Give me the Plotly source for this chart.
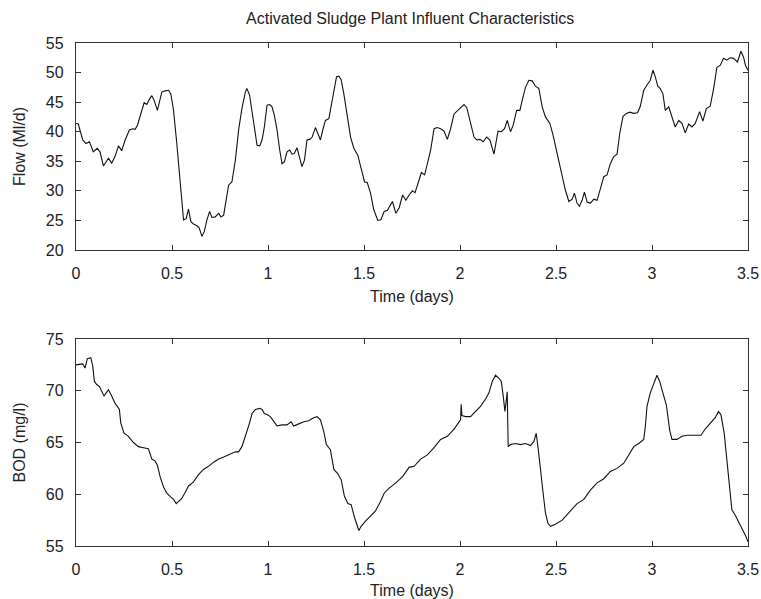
import plotly.graph_objects as go

# Flow (Ml/d) vs time (days)
flow_t = [0, 0.012, 0.035, 0.052, 0.07, 0.09, 0.11, 0.125, 0.143, 0.169, 0.186, 0.203, 0.221, 0.238, 0.256,
          0.278, 0.296, 0.308, 0.32, 0.334, 0.355, 0.369, 0.379, 0.395, 0.407, 0.424, 0.438, 0.447, 0.464,
          0.482, 0.494, 0.508, 0.525, 0.543, 0.56, 0.574, 0.586, 0.598, 0.612, 0.63, 0.642, 0.656, 0.668,
          0.682, 0.696, 0.708, 0.725, 0.743, 0.755, 0.769, 0.783, 0.795, 0.812, 0.83, 0.847, 0.864, 0.882,
          0.89, 0.904, 0.917, 0.929, 0.943, 0.957, 0.969, 0.981, 0.995, 1.009, 1.021, 1.033, 1.047, 1.061,
          1.073, 1.085, 1.099, 1.113, 1.125, 1.137, 1.151, 1.163, 1.177, 1.19, 1.203, 1.217, 1.23, 1.247,
          1.259, 1.273, 1.287, 1.299, 1.317, 1.329, 1.343, 1.357, 1.369, 1.381, 1.395, 1.412, 1.43, 1.447,
          1.468, 1.485, 1.503, 1.517, 1.534, 1.551, 1.572, 1.588, 1.605, 1.622, 1.648, 1.666, 1.683, 1.701,
          1.718, 1.735, 1.752, 1.766, 1.782, 1.799, 1.816, 1.83, 1.847, 1.865, 1.882, 1.899, 1.917, 1.934,
          1.951, 1.969, 1.99, 2.003, 2.021, 2.035, 2.052, 2.073, 2.087, 2.104, 2.121, 2.139, 2.156, 2.177,
          2.198, 2.215, 2.232, 2.246, 2.263, 2.277, 2.295, 2.312, 2.324, 2.341, 2.359, 2.376, 2.393, 2.411,
          2.428, 2.445, 2.468, 2.485, 2.506, 2.532, 2.549, 2.567, 2.584, 2.596, 2.61, 2.622, 2.636, 2.648,
          2.662, 2.679, 2.697, 2.714, 2.731, 2.749, 2.766, 2.783, 2.801, 2.818, 2.832, 2.849, 2.867, 2.884,
          2.905, 2.925, 2.939, 2.957, 2.974, 2.991, 3.005, 3.017, 3.03, 3.043, 3.057, 3.069, 3.087, 3.104,
          3.121, 3.139, 3.156, 3.173, 3.191, 3.208, 3.225, 3.248, 3.265, 3.283, 3.303, 3.321, 3.338, 3.355,
          3.373, 3.39, 3.407, 3.425, 3.445, 3.463, 3.477, 3.487, 3.5]
flow_v = [41.4, 41.3, 38.6, 38.0, 38.3, 36.6, 37.2, 36.6, 34.2, 35.5, 34.7, 35.8, 37.6, 36.8, 38.6,
          40.3, 40.5, 40.4, 41.1, 42.8, 44.9, 44.6, 45.3, 46.1, 45.3, 43.6, 45.3, 46.7, 46.9,
          47.0, 46.4, 43.6, 38.0, 31.8, 25.1, 25.3, 26.9, 24.8, 24.4, 24.1, 23.7, 22.3, 23.1,
          25.1, 26.5, 25.5, 25.6, 26.2, 25.6, 25.9, 28.7, 31.0, 31.5, 35.2, 40.3, 43.9, 46.7,
          47.3, 46.2, 43.6, 40.5, 37.7, 37.6, 38.6, 40.8, 44.5, 44.6, 44.2, 42.8, 40.3, 36.9,
          34.6, 34.9, 36.6, 36.9, 36.2, 36.3, 37.3, 35.8, 34.1, 35.2, 38.6, 38.7, 39.1, 40.7,
          39.7, 38.6, 40.5, 41.9, 42.2, 44.2, 47.0, 49.3, 49.4, 48.8, 46.4, 43.1, 39.1, 37.2,
          36.0, 33.8, 31.5, 31.4, 29.6, 26.8, 25.0, 25.1, 26.5, 26.7, 28.2, 26.2, 27.1, 29.3,
          28.4, 29.3, 30.0, 29.7, 31.5, 33.1, 32.7, 34.6, 36.9, 40.5, 40.7, 40.5, 40.1, 38.7,
          40.5, 43.0, 43.7, 44.1, 44.6, 44.1, 41.9, 39.1, 38.6, 38.7, 38.3, 39.1, 38.6, 36.2,
          40.1, 40.0, 40.5, 41.9, 40.0, 41.1, 43.6, 43.6, 45.3, 47.5, 48.7, 48.6, 47.7, 47.3,
          44.2, 42.5, 41.4, 39.4, 36.3, 32.4, 30.1, 28.2, 28.6, 29.6, 27.9, 27.4, 28.4, 29.8,
          28.1, 27.9, 28.6, 28.4, 30.4, 32.4, 32.7, 34.6, 35.8, 36.2, 39.7, 42.6, 43.1, 43.3,
          43.1, 43.2, 44.3, 47.0, 47.9, 48.7, 50.4, 49.3, 47.7, 47.3, 46.4, 43.6, 44.2, 42.5,
          40.8, 41.9, 41.4, 39.8, 41.3, 40.8, 41.4, 43.4, 41.8, 43.9, 44.3, 47.3, 50.9, 51.2,
          52.4, 52.1, 52.5, 52.4, 51.8, 53.6, 52.6, 51.2, 50.4]

# BOD (mg/l) vs time (days)
bod_t = [0, 0.021, 0.035, 0.047, 0.059, 0.077, 0.087, 0.096, 0.108, 0.122, 0.134, 0.146, 0.157, 0.169,
         0.186, 0.203, 0.226, 0.233, 0.25, 0.273, 0.299, 0.325, 0.351, 0.377, 0.395, 0.412, 0.424, 0.438,
         0.456, 0.473, 0.49, 0.508, 0.522, 0.534, 0.551, 0.569, 0.586, 0.612, 0.638, 0.664, 0.69, 0.717,
         0.743, 0.769, 0.803, 0.83, 0.847, 0.864, 0.882, 0.894, 0.904, 0.917, 0.934, 0.957, 0.969, 0.981,
         0.995, 1.012, 1.03, 1.047, 1.073, 1.099, 1.12, 1.134, 1.16, 1.186, 1.212, 1.238, 1.256, 1.273,
         1.29, 1.304, 1.325, 1.343, 1.363, 1.381, 1.398, 1.416, 1.433, 1.45, 1.473, 1.485, 1.508, 1.534,
         1.56, 1.586, 1.605, 1.631, 1.666, 1.701, 1.735, 1.761, 1.795, 1.83, 1.865, 1.899, 1.934, 1.969,
         1.995, 2.003, 2.006, 2.01, 2.029, 2.055, 2.081, 2.107, 2.133, 2.151, 2.168, 2.185, 2.203, 2.215,
         2.225, 2.234, 2.241, 2.246, 2.251, 2.263, 2.289, 2.315, 2.341, 2.367, 2.385, 2.397, 2.406, 2.419,
         2.433, 2.445, 2.458, 2.471, 2.497, 2.532, 2.567, 2.61, 2.645, 2.679, 2.714, 2.749, 2.783, 2.818,
         2.853, 2.879, 2.905, 2.931, 2.957, 2.965, 2.974, 2.991, 3.009, 3.026, 3.04, 3.057, 3.075, 3.092,
         3.104, 3.13, 3.156, 3.182, 3.208, 3.234, 3.255, 3.277, 3.303, 3.329, 3.346, 3.359, 3.376, 3.39,
         3.404, 3.416, 3.433, 3.45, 3.473, 3.49, 3.5]
bod_v = [72.5, 72.6, 72.6, 72.2, 73.1, 73.2, 72.4, 70.9, 70.6, 70.4, 69.9, 69.5, 69.8, 70.1,
         69.5, 68.8, 68.2, 66.9, 65.9, 65.6, 65.0, 64.6, 64.5, 64.4, 63.4, 63.2, 62.8, 61.7,
         60.7, 60.1, 59.8, 59.5, 59.1, 59.3, 59.6, 60.2, 60.8, 61.2, 61.9, 62.4, 62.7, 63.1,
         63.4, 63.6, 63.9, 64.1, 64.1, 64.6, 65.6, 66.2, 66.9, 67.8, 68.2, 68.3, 68.2, 67.8,
         67.7, 67.5, 67.0, 66.6, 66.7, 66.7, 67.0, 66.6, 66.8, 67.0, 67.1, 67.4, 67.5, 67.2,
         66.1, 64.8, 64.3, 62.4, 62.0, 61.4, 59.8, 59.1, 59.0, 57.8, 56.5, 56.9, 57.4, 57.9,
         58.4, 59.3, 60.1, 60.6, 61.1, 61.7, 62.6, 62.7, 63.4, 63.8, 64.5, 65.3, 65.6, 66.3,
         66.9, 67.2, 68.7, 67.6, 67.5, 67.5, 68.0, 68.5, 69.2, 69.8, 70.9, 71.5, 71.2, 70.9,
         69.5, 68.0, 69.1, 69.9, 64.6, 64.8, 64.9, 64.8, 64.9, 64.7, 65.1, 65.9, 64.6, 62.7,
         60.1, 58.2, 57.2, 56.9, 57.1, 57.5, 58.2, 59.1, 59.5, 60.4, 61.1, 61.5, 62.2, 62.5,
         63.0, 63.8, 64.6, 64.9, 65.3, 66.5, 68.5, 69.8, 70.6, 71.5, 70.9, 69.8, 68.6, 66.2,
         65.3, 65.3, 65.6, 65.7, 65.7, 65.7, 65.7, 66.3, 66.9, 67.4, 68.0, 67.7, 65.9, 63.3,
         60.4, 58.5, 58.0, 57.4, 56.5, 55.9, 55.4]

x_ticks = [0, 0.5, 1, 1.5, 2, 2.5, 3, 3.5]
x_labels = ["0", "0.5", "1", "1.5", "2", "2.5", "3", "3.5"]
flow_ticks = [20, 25, 30, 35, 40, 45, 50, 55]
bod_ticks = [55, 60, 65, 70, 75]

FONT = "Liberation Sans, Arial, sans-serif"
TXT = "#222222"
AX = "#333333"
FS = 16

fig = go.Figure()
fig.add_trace(go.Scatter(x=flow_t, y=flow_v, mode="lines", line=dict(color="#111111", width=1.1),
                         xaxis="x", yaxis="y", showlegend=False))
fig.add_trace(go.Scatter(x=bod_t, y=bod_v, mode="lines", line=dict(color="#111111", width=1.1),
                         xaxis="x2", yaxis="y2", showlegend=False))

axis_common = dict(showline=True, linecolor=AX, linewidth=1.3, mirror="ticks", ticks="inside",
                   ticklen=5, tickwidth=1, tickcolor=AX, showgrid=False, zeroline=False,
                   automargin=False, tickfont=dict(family=FONT, size=FS, color=TXT))
x_common = dict(ticklabelstandoff=9, **axis_common)
y_common = dict(ticklabelstandoff=8, **axis_common)

fig.update_layout(
    width=761, height=599,
    margin=dict(l=76, r=13, t=43, b=53, autoexpand=False),
    paper_bgcolor="white", plot_bgcolor="white",
    title=dict(text="Activated Sludge Plant Influent Characteristics", x=0.539, xanchor="center",
               y=0.969, yanchor="middle", font=dict(family=FONT, size=FS, color=TXT)),
    xaxis=dict(domain=[0, 1], anchor="y", range=[0, 3.5], tickvals=x_ticks, ticktext=x_labels,
               title=dict(text="Time (days)", font=dict(family=FONT, size=FS, color=TXT), standoff=9),
               **x_common),
    yaxis=dict(domain=[0.5885, 1], anchor="x", range=[20, 55], tickvals=flow_ticks,
               title=dict(text="Flow (Ml/d)", font=dict(family=FONT, size=FS, color=TXT), standoff=16),
               **y_common),
    xaxis2=dict(domain=[0, 1], anchor="y2", range=[0, 3.5], tickvals=x_ticks, ticktext=x_labels,
                title=dict(text="Time (days)", font=dict(family=FONT, size=FS, color=TXT), standoff=9),
                **x_common),
    yaxis2=dict(domain=[0, 0.4115], anchor="x2", range=[55, 75], tickvals=bod_ticks,
                title=dict(text="BOD (mg/l)", font=dict(family=FONT, size=FS, color=TXT), standoff=16),
                **y_common),
)

fig.write_html("out.html")
